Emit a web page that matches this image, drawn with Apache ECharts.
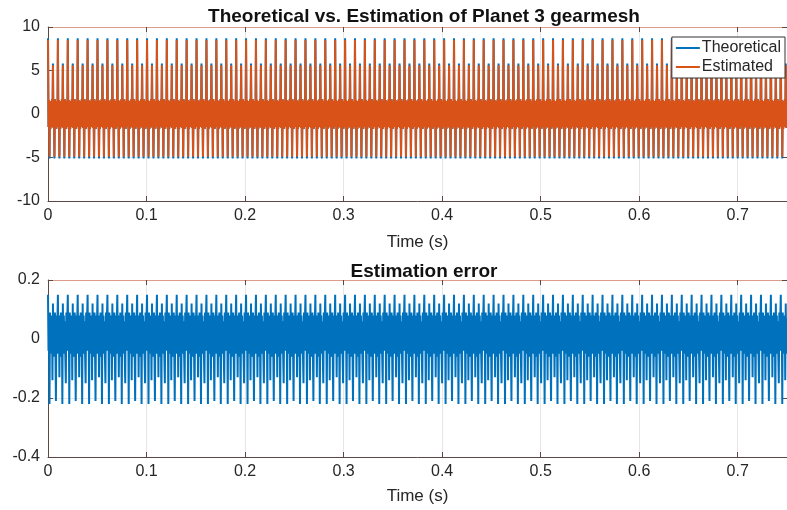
<!DOCTYPE html>
<html><head><meta charset="utf-8">
<script src="https://cdn.jsdelivr.net/npm/echarts@6/dist/echarts.min.js"></script>
<style>html,body{margin:0;padding:0;background:#fff}#c{width:787px;height:510px}</style>
</head><body><div id="c"></div>
<script>
// Values
const meshPeriod = 0.01005;          // s, spacing of the tall spikes
const samplesPerPeriod = 20;
const timeEnd = 0.75;
// one mesh period of the theoretical signal
const theoreticalCycle = [8.7, -1.5, 1.6, -5.1, 1.5, -1.7, 1.4, -1.5, 1.7, -1.4,
                          5.8, -1.6, 1.5, -5.1, 1.7, -1.5, 1.4, -1.7, 1.5, -1.4];
// one mesh period of the estimated signal
const estimatedCycle   = [8.5, -1.5, 1.6, -4.9, 1.5, -1.7, 1.4, -1.5, 1.7, -1.4,
                          5.6, -1.6, 1.5, -4.9, 1.7, -1.5, 1.4, -1.7, 1.5, -1.4];
// two mesh periods of the estimation error
const errorCycle = [0.15, -0.04, 0.08, -0.22, 0.09, -0.05, 0.06, -0.03, 0.08, -0.14,
                    0.12, -0.05, 0.07, -0.06, 0.09, -0.04, -0.21, 0.08, -0.05, 0.06,
                    0.15, -0.05, 0.08, -0.13, 0.07, -0.04, 0.09, -0.06, 0.05, -0.22,
                    0.12, -0.05, 0.08, -0.04, 0.06, -0.06, -0.15, 0.09, -0.04, 0.07];
const xTickLabels = ['0','0.1','0.2','0.3','0.4','0.5','0.6','0.7'];
const topYTicks = [-10, -5, 0, 5, 10];
const bottomYTicks = [-0.4, -0.2, 0, 0.2];
const topTitle = 'Theoretical vs. Estimation of Planet 3 gearmesh';
const bottomTitle = 'Estimation error';
const xName = 'Time (s)';
const seriesNames = ['Theoretical', 'Estimated'];

function tile(cycle) {
  const dt = meshPeriod / samplesPerPeriod;
  const out = [];
  for (let i = 0; i * dt <= timeEnd; i++) out.push([+(i * dt).toFixed(6), cycle[i % cycle.length]]);
  return out;
}

const FONT = "'Liberation Sans', Arial, sans-serif";
const txt = '#262626';
const axisCol = '#5c4944';
const topBorder = '#dd9c8a';
const gridCol = '#e6e6e6';

function xAxes(gi, gap) {
  return [{
    gridIndex: gi, type: 'value', min: 0, max: timeEnd, interval: 0.1,
    axisLine: {show: true, onZero: false, lineStyle: {color: axisCol, width: 1}},
    axisTick: {inside: true, length: 5, lineStyle: {color: axisCol}},
    axisLabel: {fontFamily: FONT, fontSize: 16, color: txt, margin: 7, showMaxLabel: false,
      formatter: v => { const k = Math.round(v * 10); return Math.abs(v * 10 - k) < 1e-6 && k < xTickLabels.length ? xTickLabels[k] : ''; }},
    splitLine: {show: true, lineStyle: {color: gridCol, width: 1}},
    name: xName, nameLocation: 'middle', nameGap: gap,
    nameTextStyle: {fontFamily: FONT, fontSize: 17, color: txt}
  }, {
    gridIndex: gi, type: 'value', position: 'top', min: 0, max: timeEnd, interval: 0.1,
    axisLine: {show: true, onZero: false, lineStyle: {color: topBorder, width: 1}},
    axisTick: {inside: true, length: 5, lineStyle: {color: axisCol}},
    axisLabel: {show: false}, splitLine: {show: false}
  }];
}
function yAxes(gi, ticks) {
  const mn = ticks[0], mx = ticks[ticks.length - 1], iv = ticks[1] - ticks[0];
  return [{
    gridIndex: gi, type: 'value', min: mn, max: mx, interval: iv,
    axisLine: {show: true, onZero: false, lineStyle: {color: axisCol, width: 1}},
    axisTick: {inside: true, length: 5, lineStyle: {color: axisCol}},
    axisLabel: {fontFamily: FONT, fontSize: 16, color: txt, margin: 8,
      formatter: v => { const t = ticks.find(x => Math.abs(x - v) < 1e-9); return t === undefined ? '' : String(t); }},
    splitLine: {show: true, lineStyle: {color: gridCol, width: 1}}
  }, {
    gridIndex: gi, type: 'value', position: 'right', min: mn, max: mx, interval: iv,
    axisLine: {show: true, onZero: false, lineStyle: {color: axisCol}},
    axisTick: {inside: true, length: 5}, axisLabel: {show: false}, splitLine: {show: false}
  }];
}

const chart = echarts.init(document.getElementById('c'), null, {renderer: 'canvas'});
chart.setOption({
  animation: false,
  backgroundColor: '#fff',
  title: [
    {text: topTitle, left: 419, top: 2, textAlign: 'center',
     textStyle: {fontFamily: FONT, fontSize: 19, fontWeight: 'bold', color: '#111'}},
    {text: bottomTitle, left: 419, top: 257, textAlign: 'center',
     textStyle: {fontFamily: FONT, fontSize: 19, fontWeight: 'bold', color: '#111'}}
  ],
  grid: [
    {left: 48, top: 27, right: -4, height: 174},
    {left: 48, top: 280, right: -4, height: 177}
  ],
  xAxis: [...xAxes(0, 33), ...xAxes(1, 31)],
  yAxis: [...yAxes(0, topYTicks), ...yAxes(1, bottomYTicks)],
  legend: {
    data: seriesNames, orient: 'vertical', right: 2, top: 37,
    backgroundColor: '#fff', borderColor: '#333', borderWidth: 1, borderRadius: 0,
    padding: [3, 4, 3, 4], itemGap: 3, itemWidth: 24, itemHeight: 2, icon: 'rect',
    textStyle: {fontFamily: FONT, fontSize: 16, color: txt, padding: [0, 0, 0, -3]}
  },
  series: [
    {name: seriesNames[0], type: 'line', xAxisIndex: 0, yAxisIndex: 0, data: tile(theoreticalCycle),
     showSymbol: false, symbol: 'none', color: '#0072BD', lineStyle: {width: 2, color: '#0072BD'}, sampling: null, z: 2},
    {name: seriesNames[1], type: 'line', xAxisIndex: 0, yAxisIndex: 0, data: tile(estimatedCycle),
     showSymbol: false, symbol: 'none', color: '#D95319', lineStyle: {width: 2, color: '#D95319'}, sampling: null, z: 3},
    {name: 'Error', type: 'line', xAxisIndex: 2, yAxisIndex: 2, data: tile(errorCycle),
     showSymbol: false, symbol: 'none', color: '#0072BD', lineStyle: {width: 2, color: '#0072BD'}, sampling: null, z: 2}
  ]
});
</script></body></html>
